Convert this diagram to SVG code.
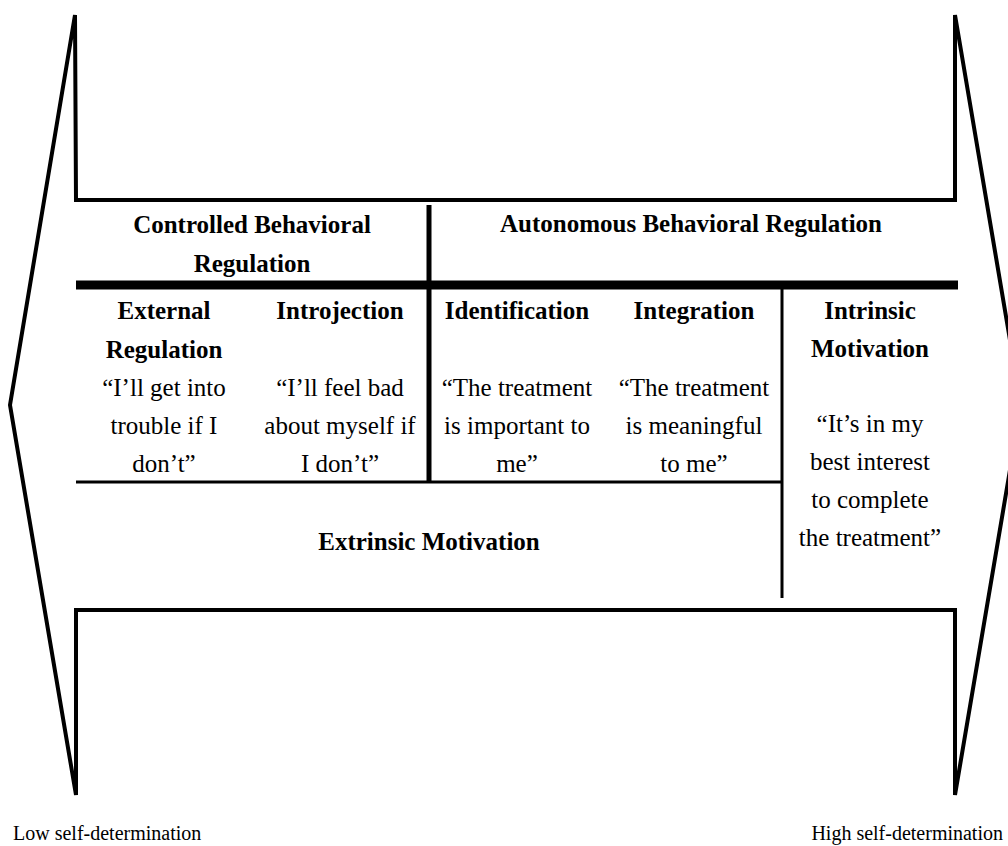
<svg xmlns="http://www.w3.org/2000/svg" width="1008" height="846" viewBox="0 0 1008 846">
<style>
.t{font-family:"Liberation Serif","Times New Roman",serif;font-size:25px;fill:#000;text-anchor:middle}
.b{font-weight:bold}
.s{font-family:"Liberation Serif","Times New Roman",serif;font-size:20px;fill:#000}
.ln{stroke:#000;fill:none}
</style>
<rect width="1008" height="846" fill="#fff"/>
<g id="arrow">
<polygon class="ln" stroke-width="4" points="10,405 75,15 76,200 955,200 955,15 1021,405 955,795 955,610 76,610 76,795"/>
</g>
<g id="connectors">
<line class="ln" x1="76" y1="285" x2="958" y2="285" stroke-width="9"/>
<line class="ln" x1="429" y1="205" x2="429" y2="483" stroke-width="5"/>
<line class="ln" x1="76" y1="482" x2="782" y2="482" stroke-width="3"/>
<line class="ln" x1="782" y1="289" x2="782" y2="598" stroke-width="3"/>
</g>
<g id="controlled">
<text class="t b" x="252" y="233">Controlled Behavioral</text>
<text class="t b" x="252" y="272">Regulation</text>
</g>
<g id="autonomous">
<text class="t b" x="691" y="232">Autonomous Behavioral Regulation</text>
</g>
<g id="external">
<text class="t b" x="164" y="319">External</text>
<text class="t b" x="164" y="358">Regulation</text>
<text class="t" x="164" y="396">“I’ll get into</text>
<text class="t" x="164" y="434">trouble if I</text>
<text class="t" x="164" y="472">don’t”</text>
</g>
<g id="introjection">
<text class="t b" x="340" y="319">Introjection</text>
<text class="t" x="340" y="396">“I’ll feel bad</text>
<text class="t" x="340" y="434">about myself if</text>
<text class="t" x="340" y="472">I don’t”</text>
</g>
<g id="identification">
<text class="t b" x="517" y="319">Identification</text>
<text class="t" x="517" y="396">“The treatment</text>
<text class="t" x="517" y="434">is important to</text>
<text class="t" x="517" y="472">me”</text>
</g>
<g id="integration">
<text class="t b" x="694" y="319">Integration</text>
<text class="t" x="694" y="396">“The treatment</text>
<text class="t" x="694" y="434">is meaningful</text>
<text class="t" x="694" y="472">to me”</text>
</g>
<g id="intrinsic">
<text class="t b" x="870" y="319">Intrinsic</text>
<text class="t b" x="870" y="357">Motivation</text>
<text class="t" x="870" y="432">“It’s in my</text>
<text class="t" x="870" y="470">best interest</text>
<text class="t" x="870" y="508">to complete</text>
<text class="t" x="870" y="546">the treatment”</text>
</g>
<g id="extrinsic">
<text class="t b" x="429" y="550">Extrinsic Motivation</text>
</g>
<g id="labels">
<text class="s" x="13" y="840">Low self-determination</text>
<text class="s" x="1003" y="840" text-anchor="end">High self-determination</text>
</g>
</svg>
